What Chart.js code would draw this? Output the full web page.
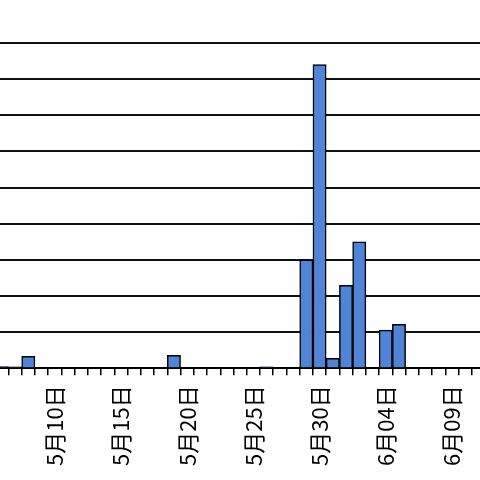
<!DOCTYPE html>
<html>
<head>
<meta charset="utf-8">
<script src="https://cdn.jsdelivr.net/npm/chart.js@4"></script>
<style>
  html, body { margin: 0; padding: 0; background: #fff; overflow: hidden; width: 480px; height: 480px; }
  #chart { position: absolute; left: -71px; top: 0; }
</style>
</head>
<body>
<canvas id="chart" width="609" height="480"></canvas>
<script>
// daily categories, 5/1 .. 6/15
const days = [
  "5月01日", "5月02日", "5月03日", "5月04日", "5月05日", "5月06日", "5月07日", "5月08日", "5月09日", "5月10日",
  "5月11日", "5月12日", "5月13日", "5月14日", "5月15日", "5月16日", "5月17日", "5月18日", "5月19日", "5月20日",
  "5月21日", "5月22日", "5月23日", "5月24日", "5月25日", "5月26日", "5月27日", "5月28日", "5月29日", "5月30日",
  "5月31日", "6月01日", "6月02日", "6月03日", "6月04日", "6月05日", "6月06日", "6月07日", "6月08日", "6月09日",
  "6月10日", "6月11日", "6月12日", "6月13日", "6月14日", "6月15日"
];
const counts = [
  0, 0, 0, 0, 0, 0.5, 0.4, 3.3, 0, 0,
  0, 0, 0, 0, 0, 0, 0, 0, 3.6, 0,
  0, 0, 0, 0, 0, 0.4, 0, 0, 30, 84,
  2.8, 23, 35, 0, 10.6, 12.2, 0, 0, 0, 0,
  0, 0, 0, 0, 0, 0
];
const yMax = 90;
const yStep = 10;

const ctx = document.getElementById("chart");
new Chart(ctx, {
  type: "bar",
  data: {
    labels: days,
    datasets: [{
      data: counts,
      backgroundColor: "#4f84d6",
      borderColor: "#000",
      borderWidth: 1.5,
      barPercentage: 1,
      categoryPercentage: 1,
    }],
  },
  options: {
    responsive: false,
    animation: false,
    layout: { padding: { top: 43, bottom: 4, left: 0, right: 0 } },
    plugins: { legend: { display: false }, tooltip: { enabled: false } },
    scales: {
      x: {
        border: { color: "#000", width: 2 },
        grid: { drawOnChartArea: false, drawTicks: true, tickLength: 7, color: "#000", lineWidth: 1.5 },
        ticks: {
          autoSkip: false,
          minRotation: 90,
          maxRotation: 90,
          padding: 10,
          color: "#000",
          font: { family: "'Noto Sans CJK JP', sans-serif", size: 22 },
          callback: (v, i) => (i % 5 === 4 ? days[i] : ""),
        },
        // keep the plot full width, the edges are cut off anyway
        afterFit: (scale) => { scale.paddingLeft = 0; scale.paddingRight = 0; },
      },
      y: {
        min: 0,
        max: yMax,
        border: { display: false },
        grid: { color: "#111", lineWidth: 2, drawTicks: false },
        ticks: { display: false, stepSize: yStep },
      },
    },
  },
});
</script>
</body>
</html>
